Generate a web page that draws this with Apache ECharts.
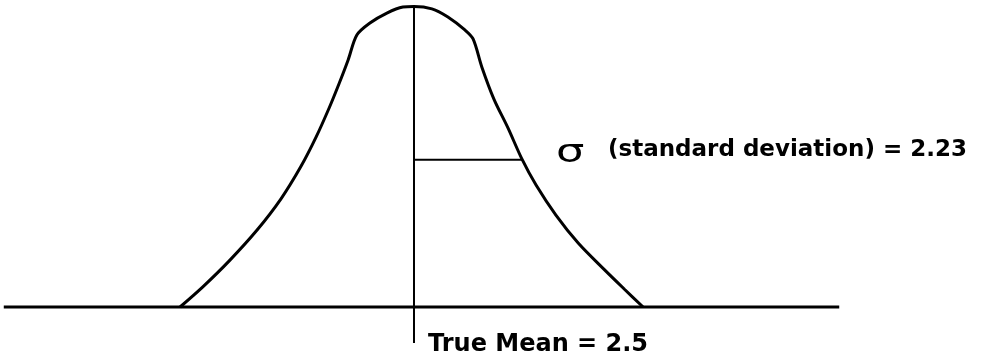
<!DOCTYPE html>
<html>
<head>
<meta charset="utf-8">
<title>True Mean and Standard Deviation</title>
<script src="https://cdn.jsdelivr.net/npm/echarts@6/dist/echarts.min.js"></script>
<style>
  html, body { margin: 0; padding: 0; background: #fff; }
  #main { width: 990px; height: 362px; }
</style>
</head>
<body>
<div id="main"></div>
<script>
// ------------------------------------------------------------
// Sketched bell curve: true mean 2.5, sigma 2.23
// x in data units, y = relative height (peak = 1)
// ------------------------------------------------------------

const trueMean = 2.5;
const sigma = 2.23;
const sigmaLevel = 0.49;          // height where the sigma bar is drawn

// curve, left foot -> peak -> right foot
const curveX = [-2.33, -1.86, -1.30, -0.74, -0.25, 0.17, 0.48, 0.75, 0.95, 1.14, 1.32,
                1.59, 1.94, 2.27, 2.50, 2.87, 3.20, 3.55, 3.72,
                3.90, 4.15, 4.44, 4.73, 5.02, 5.43, 5.89, 6.42, 6.84, 7.23];
const curveY = [0.00, 0.067, 0.156, 0.256, 0.359, 0.469, 0.566, 0.663, 0.742, 0.822, 0.905,
                0.945, 0.978, 0.998, 1.00, 0.992, 0.965, 0.922, 0.892,
                0.799, 0.692, 0.596, 0.492, 0.406, 0.306, 0.213, 0.126, 0.060, 0.00];

const baselineX = [-5.97, 11.28];  // horizontal axis line
const meanLineY = [1.00, -0.12];   // vertical line through the mean

const sigmaText = '(standard deviation) = ' + sigma;
const meanText = 'True Mean = ' + trueMean;

const chart = echarts.init(document.getElementById('main'));

const lineSeries = (data, width) => ({
    type: 'line',
    data: data,
    symbol: 'none',
    silent: true,
    lineStyle: { color: '#000', width: width }
});

const curve = curveX.map((x, i) => [x, curveY[i]]);

const option = {
    animation: false,
    backgroundColor: '#fff',
    grid: { left: 0, right: 0, top: 0, bottom: 0 },
    xAxis: { type: 'value', min: -6.048, max: 14.393, show: false },
    yAxis: { type: 'value', min: -0.183, max: 1.0216, show: false },
    series: [
        Object.assign(lineSeries(curve, 3), { smooth: 0.3 }),
        lineSeries(baselineX.map(x => [x, 0]), 3),
        lineSeries(meanLineY.map(y => [trueMean, y]), 2),
        lineSeries([[trueMean, sigmaLevel], [trueMean + sigma, sigmaLevel]], 2)
    ],
    graphic: [
        {
            type: 'text', left: 556, top: 138, scaleX: 1.4,
            style: { text: 'σ', font: '32px "DejaVu Sans"', fill: '#000' }
        },
        {
            type: 'text', left: 608, top: 139,
            style: { text: sigmaText, font: 'bold 23px "DejaVu Sans"', fill: '#000' }
        },
        {
            type: 'text', left: 428, top: 333,
            style: { text: meanText, font: 'bold 24px "DejaVu Sans"', fill: '#000' }
        }
    ]
};

chart.setOption(option);
</script>
</body>
</html>
